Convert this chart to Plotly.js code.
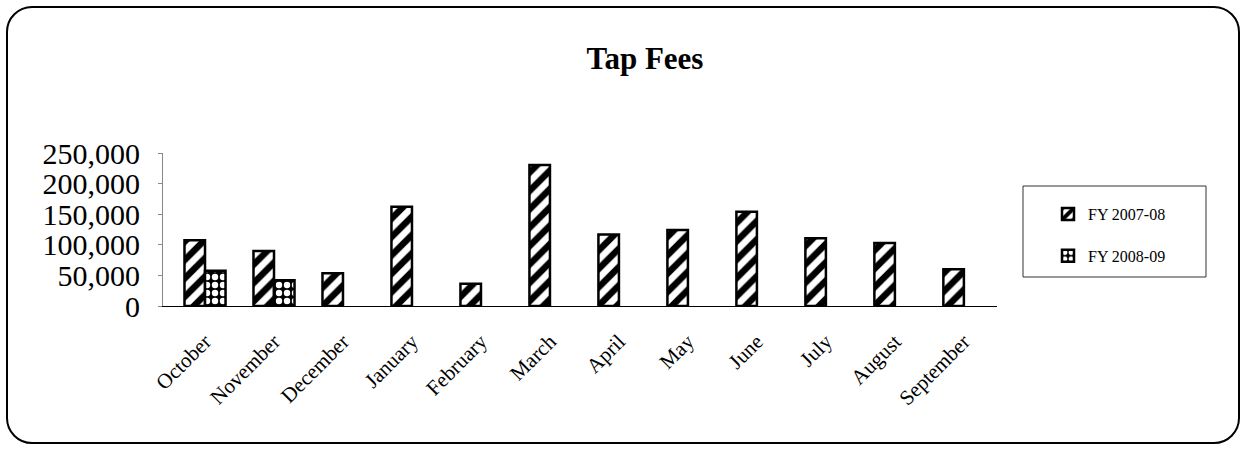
<!DOCTYPE html>
<html>
<head>
<meta charset="utf-8">
<script src="https://cdn.plot.ly/plotly-3.0.1.min.js"></script>
<style>
  html, body { margin: 0; padding: 0; background: #fff; }
  #wrap { position: relative; width: 1246px; height: 449px; }
  #chart { position: absolute; left: 0; top: 0; width: 1246px; height: 449px; }
  #frame { position: absolute; left: 6px; top: 6px; width: 1230px; height: 434px;
           border: 2.5px solid #000; border-radius: 26px; pointer-events: none; }
</style>
</head>
<body>
<div id="wrap"><div id="chart"></div><div id="frame"></div></div>
<script>
const months = ["October","November","December","January","February","March","April","May","June","July","August","September"];
const fy0708 = [107500, 90000, 53500, 162000, 36500, 230500, 117000, 124000, 154000, 110500, 103000, 60000];
const fy0809 = [57500, 42000, null, null, null, null, null, null, null, null, null, null];
const seriesNames = ["FY 2007-08", "FY 2008-09"];
const yTicks = [0, 50000, 100000, 150000, 200000, 250000];
const yTickText = ["0", "50,000", "100,000", "150,000", "200,000", "250,000"];

const serif = "Liberation Serif, Times New Roman, serif";

const traces = [
  {
    type: "bar", x: months, y: fy0708, name: seriesNames[0], legendgroup: "a",
    marker: { color: "#fff", line: { color: "#000", width: 2.5 },
      pattern: { shape: "/", fgcolor: "#000", bgcolor: "#fff", size: 13, solidity: 0.5 } },
    hoverinfo: "skip"
  },
  {
    type: "bar", x: months, y: fy0809, name: seriesNames[1], legendgroup: "b",
    marker: { color: "#000", line: { color: "#000", width: 2.5 },
      pattern: { shape: ".", fgcolor: "#fff", bgcolor: "#000", size: 8, solidity: 0.5 } },
    hoverinfo: "skip"
  }
];

const L = 163, R = 997, T = 153, B = 306;
const pw = R - L, ph = B - T;
function px2x(p) { return (p - L) / pw; }
function py2y(p) { return (B - p) / ph; }

const layout = {
  width: 1246, height: 449,
  margin: { l: L, r: 1246 - R, t: T, b: 449 - B, pad: 0 },
  paper_bgcolor: "#fff", plot_bgcolor: "#fff",
  font: { family: serif, color: "#000" },
  title: { text: "<b>Tap Fees</b>", font: { family: serif, size: 31, color: "#000" },
           x: 645 / 1246, xanchor: "center", xref: "container", y: 1 - 58 / 449, yanchor: "middle", yref: "container" },
  barmode: "group", bargap: 0.405, bargroupgap: 0,
  showlegend: true,
  legend: { x: px2x(1048), xanchor: "left", y: py2y(197), yanchor: "top",
            font: { family: serif, size: 16, color: "#000" }, bgcolor: "rgba(0,0,0,0)",
            borderwidth: 0, traceorder: "grouped", tracegroupgap: 18, itemwidth: 30 },
  xaxis: {
    type: "category", range: [-0.609, 11.48], autorange: false,
    showline: true, linecolor: "#000", linewidth: 1, showgrid: false, zeroline: false,
    ticks: "", tickangle: -45, ticklabelstandoff: 14,
    tickfont: { family: serif, size: 21, color: "#000" }, fixedrange: true
  },
  yaxis: {
    range: [0, 250000], autorange: false, tickmode: "array", tickvals: yTicks, ticktext: yTickText,
    showline: true, linecolor: "#888", linewidth: 1, showgrid: false, zeroline: false,
    ticks: "outside", ticklen: 4, tickcolor: "#888", ticklabelstandoff: 12,
    tickfont: { family: serif, size: 30, color: "#000" }, fixedrange: true
  },
  shapes: [
    { type: "rect", xref: "paper", yref: "paper", x0: px2x(1023), x1: px2x(1206), y0: py2y(277), y1: py2y(186),
      line: { color: "#333", width: 1 }, fillcolor: "rgba(0,0,0,0)", layer: "below" }
  ]
};

Plotly.newPlot("chart", traces, layout, { displayModeBar: false, staticPlot: true });
</script>
</body>
</html>
